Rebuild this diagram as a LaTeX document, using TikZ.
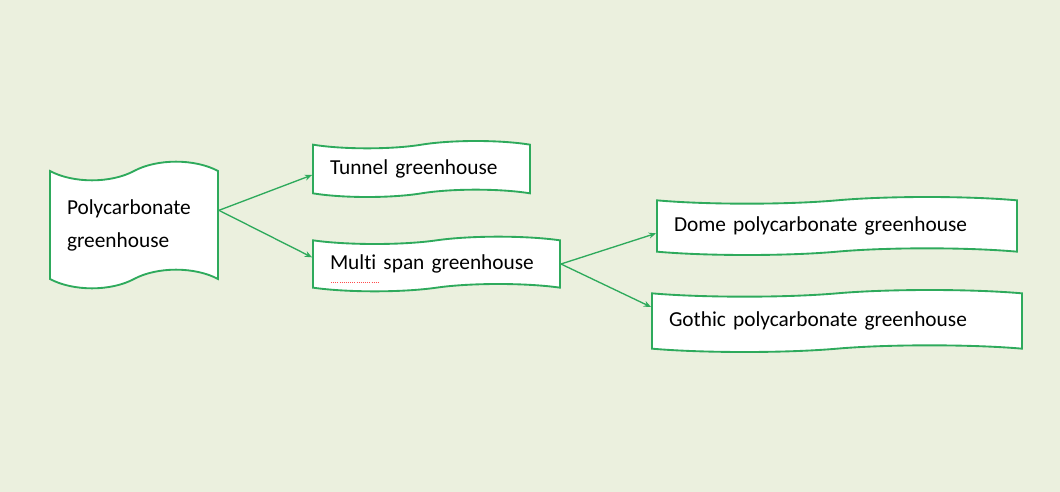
\documentclass[tikz,border=0pt]{standalone}
\usepackage{fontspec}
\setmainfont[Ligatures=NoCommon]{Carlito}
\usetikzlibrary{arrows.meta,shapes.symbols}

\definecolor{bgolive}{HTML}{EBF0DE}
\definecolor{linegreen}{HTML}{2EAA5C}

\tikzset{
  wave/.style={tape, draw=linegreen, fill=white, line width=1.4pt,
    align=left, inner xsep=12.75pt, font=\fontsize{16}{24.75}\selectfont,
    tape bend top=in and out, tape bend bottom=in and out},
  link/.style={-{Stealth[length=5.5pt,width=4.5pt]}, draw=linegreen, line width=1pt}
}

\begin{document}
\begin{tikzpicture}[x=0.75pt,y=-0.75pt]
\fill[bgolive] (0,0) rectangle (1060,492);
\useasboundingbox (0,0) rectangle (1060,492);

\node[wave, minimum width=126pt, minimum height=95pt, text width=100.5pt,
  tape bend height=14pt] (poly) at (134,225) {Polycarbonate\\greenhouse};
\node[wave, minimum width=162.75pt, minimum height=42pt, text width=137.25pt,
  tape bend height=5.5pt] (tunnel) at (421.5,169) {Tunnel greenhouse};
\node[wave, minimum width=185.25pt, minimum height=41pt, text width=159.75pt,
  tape bend height=5.5pt] (multi) at (436.5,264) {Multi span greenhouse};
\node[wave, minimum width=270pt, minimum height=43.5pt, text width=244.5pt,
  tape bend height=5pt] (dome) at (837,226) {Dome polycarbonate greenhouse};
\node[wave, minimum width=277.5pt, minimum height=46.5pt, text width=252pt,
  tape bend height=5pt] (gothic) at (837,321) {Gothic polycarbonate greenhouse};

% spell check mark under "Multi"
\draw[red!70, densely dotted, line width=0.6pt] (331,282) -- (378,282);

\coordinate (polyout) at ([yshift=11pt]poly.east);
\draw[link] (polyout) -- ([yshift=-4.5pt]tunnel.west);
\draw[link] (polyout) -- ([yshift=5pt]multi.west);
\draw[link] (multi.east) -- ([yshift=-5.5pt]dome.west);
\draw[link] (multi.east) -- ([yshift=10.5pt]gothic.west);
\end{tikzpicture}
\end{document}
